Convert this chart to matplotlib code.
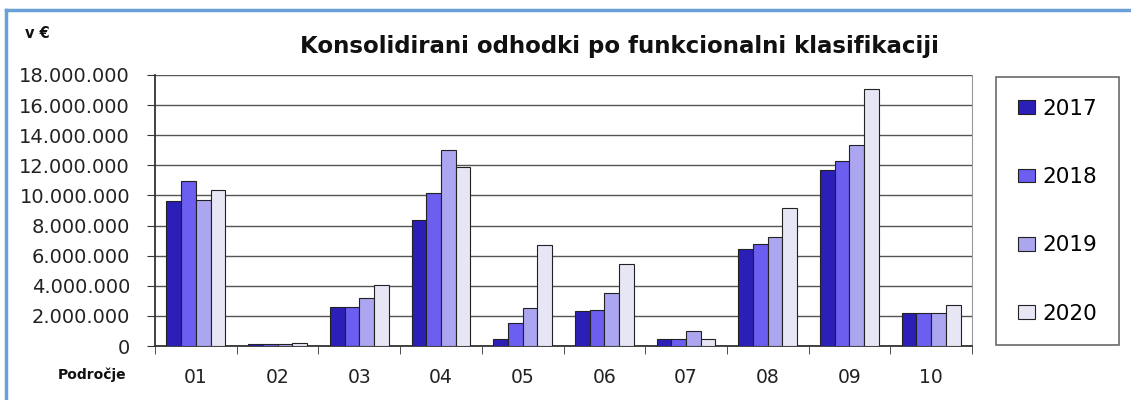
import matplotlib
matplotlib.use("Agg")
import matplotlib.pyplot as plt
from matplotlib.ticker import FuncFormatter, FixedLocator
from matplotlib.lines import Line2D
import numpy as np

# podatki (odčitano s slike)
categories = ["01", "02", "03", "04", "05", "06", "07", "08", "09", "10"]
years = ["2017", "2018", "2019", "2020"]
v2017 = [9630000, 150000, 2600000, 8400000, 460000, 2320000, 460000, 6440000, 11700000, 2190000]
v2018 = [10950000, 120000, 2600000, 10150000, 1550000, 2410000, 460000, 6800000, 12300000, 2190000]
v2019 = [9700000, 120000, 3200000, 13000000, 2550000, 3520000, 1020000, 7240000, 13350000, 2190000]
v2020 = [10360000, 200000, 4050000, 11900000, 6700000, 5440000, 480000, 9140000, 17070000, 2740000]
series = [v2017, v2018, v2019, v2020]
colors = ["#2b1fb8", "#6b5ef0", "#aba6ef", "#e6e6f5"]

fig = plt.figure(figsize=(11.31, 4), dpi=100)
ax = fig.add_axes([155 / 1131, 1 - 346 / 400, (972 - 155) / 1131, (346 - 75) / 400])

x = np.arange(len(categories))
w = 0.18
for i, (vals, c, yr) in enumerate(zip(series, colors, years)):
    ax.bar(x + (i - 1.5) * w, vals, width=w, color=c, edgecolor="#222222",
           linewidth=0.8, label=yr, zorder=3)

ax.set_xlim(-0.5, len(categories) - 0.5)
ax.set_ylim(0, 18000000)
ax.set_yticks(np.arange(0, 18000001, 2000000))
ax.yaxis.set_major_formatter(FuncFormatter(lambda v, p: f"{int(v):,}".replace(",", ".")))
ax.grid(axis="y", color="#555555", linewidth=1.0, zorder=0)

ax.set_xticks(x)
ax.set_xticklabels(categories)
ax.xaxis.set_minor_locator(FixedLocator(np.arange(-0.5, len(categories), 1.0)))
ax.tick_params(axis="x", which="major", length=0, pad=16, labelsize=13.5, labelcolor="#222222")
ax.tick_params(axis="x", which="minor", length=6, direction="out", color="#333333")
ax.tick_params(axis="y", length=6, direction="out", pad=12, labelsize=14, labelcolor="#222222",
               color="#333333")

ax.spines["top"].set_visible(False)
ax.spines["right"].set_color("#999999")
ax.spines["left"].set_color("#333333")
ax.spines["bottom"].set_color("#333333")
ax.spines["left"].set_linewidth(1.3)
ax.spines["bottom"].set_linewidth(1.3)

handles, labels = ax.get_legend_handles_labels()
leg = fig.legend(handles, labels, loc="upper left", bbox_to_anchor=(996 / 1131, 1 - 77 / 400),
                 fontsize=15.5, frameon=True, fancybox=False, edgecolor="#444444",
                 labelspacing=2.25, borderpad=1.0, handlelength=0.8, handleheight=0.6,
                 handletextpad=0.35, borderaxespad=0)
leg.get_frame().set_linewidth(1.2)

fig.text(619 / 1131, 1 - 47 / 400, "Konsolidirani odhodki po funkcionalni klasifikaciji",
         ha="center", va="center", fontsize=16.5, fontweight="bold", color="#111111")
fig.text(25 / 1131, 1 - 33 / 400, "v €", ha="left", va="center", fontsize=10.5,
         fontweight="bold", color="#111111")
fig.text(92 / 1131, 1 - 375 / 400, "Področje", ha="center", va="center", fontsize=10,
         fontweight="bold", color="#111111")

# modri okvir
fig.add_artist(Line2D([6 / 1131, 1.0], [1 - 10 / 400, 1 - 10 / 400], color="#6a9fd8", linewidth=2.5))
fig.add_artist(Line2D([6 / 1131, 6 / 1131], [0, 1 - 10 / 400], color="#6a9fd8", linewidth=2.5))

fig.savefig("out.png", dpi=100)
